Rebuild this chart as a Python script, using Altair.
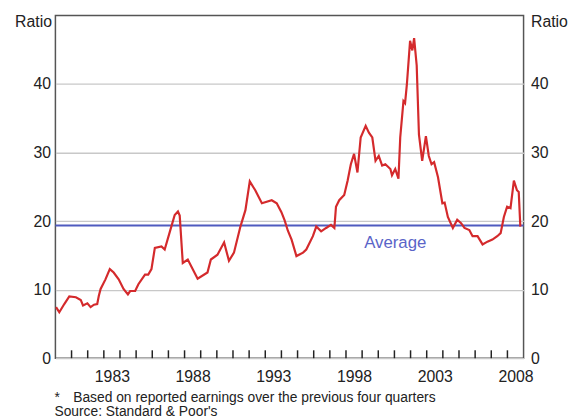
import altair as alt
import pandas as pd

# ---- data ----
years = [1980.04, 1980.24, 1980.55, 1980.86, 1981.27, 1981.57, 1981.71, 1981.98, 1982.18, 1982.39,
         1982.59, 1982.69, 1982.80, 1983.10, 1983.37, 1983.61, 1983.92, 1984.22, 1984.49, 1984.63,
         1984.94, 1985.14, 1985.55, 1985.75, 1985.95, 1986.16, 1986.57, 1986.77, 1987.18, 1987.39,
         1987.59, 1987.70, 1987.89, 1988.20, 1988.81, 1989.42, 1989.63, 1990.04, 1990.45, 1990.75,
         1991.06, 1991.46, 1991.77, 1992.04, 1992.38, 1992.79, 1993.40, 1993.71, 1994.00, 1994.20,
         1994.40, 1994.63, 1994.93, 1995.34, 1995.54, 1995.95, 1996.16, 1996.46, 1996.77, 1997.07,
         1997.28, 1997.38, 1997.58, 1997.89, 1998.10, 1998.30, 1998.50, 1998.71, 1998.91, 1999.22,
         1999.42, 1999.63, 1999.83, 2000.03, 2000.24, 2000.44, 2000.75, 2000.85, 2001.05, 2001.25,
         2001.36, 2001.56, 2001.66, 2001.77, 2001.97, 2002.11, 2002.22, 2002.38, 2002.52, 2002.72,
         2002.95, 2003.13, 2003.30, 2003.46, 2003.70, 2003.97, 2004.11, 2004.31, 2004.62, 2004.89,
         2005.13, 2005.34, 2005.64, 2005.84, 2006.15, 2006.46, 2006.76, 2007.07, 2007.37, 2007.58,
         2007.78, 2007.98, 2008.19, 2008.40, 2008.59, 2008.70, 2008.80]
pe_ratio = [7.45, 6.7, 7.9, 9.0, 8.9, 8.5, 7.7, 8.0, 7.45, 7.8,
            7.9, 9.1, 10.1, 11.5, 13.0, 12.5, 11.5, 10.1, 9.3, 9.8,
            9.8, 10.8, 12.2, 12.2, 13.0, 16.1, 16.3, 15.85, 19.2, 20.9,
            21.4, 20.8, 13.9, 14.4, 11.6, 12.5, 14.4, 15.1, 16.9, 14.2,
            15.4, 19.2, 21.6, 25.8, 24.5, 22.6, 23.05, 22.6, 21.3, 20.1,
            18.6, 17.3, 14.9, 15.4, 15.85, 17.8, 19.2, 18.5, 19.0, 19.45,
            19.0, 22.1, 23.05, 23.8, 25.9, 28.3, 29.8, 27.1, 32.2, 33.9,
            32.9, 32.2, 28.8, 29.5, 28.1, 28.3, 27.6, 26.7, 27.6, 26.2,
            32.2, 37.5, 37.2, 39.9, 46.3, 44.9, 46.7, 42.7, 32.6, 28.8,
            32.4, 29.5, 28.3, 28.6, 26.4, 22.6, 22.7, 20.6, 19.0, 20.2,
            19.7, 19.0, 18.7, 17.8, 17.8, 16.6, 17.0, 17.3, 17.8, 18.25,
            20.6, 22.1, 21.9, 25.9, 24.5, 24.25, 19.2]
average_value = [19.35]
average_label = ["Average"]
average_label_year = [2001.05]
x_domain = [1980, 2009]
y_domain = [0, 50]
year_ticks = list(range(1981, 2009))
y_ticks = [0, 10, 20, 30, 40]
axis_title = "Ratio"
footnote_star = ["*"]
footnote_text = ["Based on reported earnings over the previous four quarters"]
source_text = ["Source: Standard & Poor's"]

FONT = "Liberation Sans, Arial"
RED = "#d42a2c"
BLUE = "#4f5bbf"
TEXT = "#222222"

df = pd.DataFrame({"year": years, "pe": pe_ratio})
avg_df = pd.DataFrame({"avg": average_value})
lab_df = pd.DataFrame({"year": average_label_year, "avg": average_value, "t": average_label})
tick_df = pd.DataFrame({"year": year_ticks})

x_scale = alt.Scale(domain=x_domain, nice=False, zero=False)
y_scale = alt.Scale(domain=y_domain, nice=False, zero=True)

x_axis = alt.Axis(
    values=year_ticks, title=None, domain=False, grid=False, ticks=False,
    labelExpr="datum.value % 5 == 3 ? '' + datum.value : ''",
    labelOffset=8.17, labelPadding=11, labelFontSize=16, labelFont=FONT,
    labelColor=TEXT, labelFlush=False, labelOverlap=False, labelBound=False,
)
left_axis = alt.Axis(
    orient="left", values=y_ticks, domain=False, ticks=False, grid=True,
    gridColor="#c8c8c8", gridWidth=1.3,
    labelPadding=5, labelFontSize=16, labelFont=FONT, labelColor=TEXT,
    title=axis_title, titleAngle=0, titleAlign="right", titleBaseline="middle",
    titleX=-4, titleY=6.5, titleFontSize=16, titleFont=FONT,
    titleFontWeight="normal", titleColor=TEXT,
)
right_axis = alt.Axis(
    orient="right", values=y_ticks, domain=False, ticks=False, grid=False,
    labelPadding=7, labelFontSize=16, labelFont=FONT, labelColor=TEXT,
    title=axis_title, titleAngle=0, titleAlign="left", titleBaseline="middle",
    titleX=7, titleY=6.5, titleFontSize=16, titleFont=FONT,
    titleFontWeight="normal", titleColor=TEXT,
)

line = alt.Chart(df).mark_line(color=RED, strokeWidth=2.2).encode(
    x=alt.X("year:Q", scale=x_scale, axis=x_axis),
    y=alt.Y("pe:Q", scale=y_scale, axis=left_axis),
)
avg_rule = alt.Chart(avg_df).mark_rule(color=BLUE, strokeWidth=2).encode(
    y=alt.Y("avg:Q", scale=y_scale, axis=right_axis),
)
# year tick marks pointing up from the baseline, like the reference
year_tick_marks = alt.Chart(tick_df).mark_rule(
    color="#222222", strokeWidth=1.5
).encode(
    x=alt.X("year:Q", scale=x_scale, axis=x_axis),
    y=alt.value(347),
    y2=alt.value(339),
)
avg_text = alt.Chart(lab_df).mark_text(
    color="#5a64c8", fontSize=17, font=FONT, align="center", baseline="alphabetic", dy=22.3
).encode(
    x=alt.X("year:Q", scale=x_scale, axis=x_axis),
    y=alt.Y("avg:Q", scale=y_scale, axis=None),
    text="t:N",
)
star = alt.Chart(pd.DataFrame({"t": footnote_star})).mark_text(
    align="left", baseline="alphabetic", fontSize=14, font=FONT, color=TEXT
).encode(x=alt.value(-1), y=alt.value(391), text="t:N")
note = alt.Chart(pd.DataFrame({"t": footnote_text})).mark_text(
    align="left", baseline="alphabetic", fontSize=14, font=FONT, color=TEXT
).encode(x=alt.value(18), y=alt.value(391), text="t:N")
source = alt.Chart(pd.DataFrame({"t": source_text})).mark_text(
    align="left", baseline="alphabetic", fontSize=14, font=FONT, color=TEXT
).encode(x=alt.value(-1), y=alt.value(406), text="t:N")

chart = (
    alt.layer(avg_rule, line, year_tick_marks, avg_text, star, note, source)
    .resolve_axis(y="independent")
    .properties(
        width=474, height=347,
        autosize=alt.AutoSizeParams(type="none"),
        padding={"left": 48, "top": 5, "right": 46, "bottom": 60},
        background="white",
    )
    .configure_view(stroke="#555555", strokeWidth=1.5)
)

chart.save("out.html", embed_options={"renderer": "svg", "actions": False})
